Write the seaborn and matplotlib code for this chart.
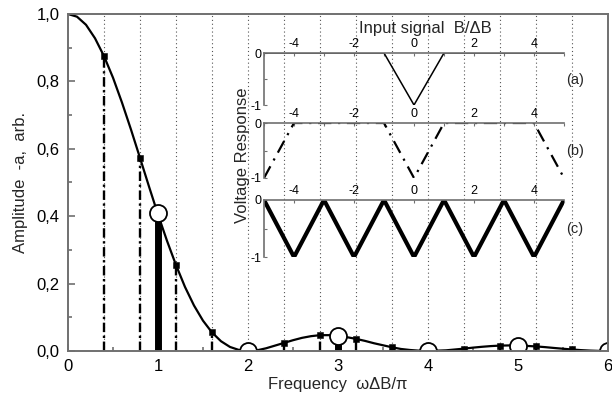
import numpy as np
import pandas as pd
import seaborn as sns
import matplotlib
matplotlib.use("Agg")
import matplotlib.pyplot as plt
from matplotlib.ticker import MultipleLocator, FixedLocator

sns.set_style("ticks")
plt.rcParams['font.family'] = ['Liberation Sans', 'DejaVu Sans']
plt.rcParams['axes.unicode_minus'] = False

# spectrum amplitude
curve_x = [0.0, 0.1, 0.2, 0.3, 0.4, 0.5, 0.6, 0.7, 0.8, 0.9, 1.0, 1.1, 1.2, 1.3, 1.4, 1.5,
           1.6, 1.7, 1.8, 1.9, 2.0, 2.1, 2.2, 2.3, 2.4, 2.5, 2.6, 2.7, 2.8, 2.9, 3.0, 3.1,
           3.2, 3.3, 3.4, 3.5, 3.6, 3.7, 3.8, 3.9, 4.0, 4.1, 4.2, 4.3, 4.4, 4.5, 4.6, 4.7,
           4.8, 4.9, 5.0, 5.1, 5.2, 5.3, 5.4, 5.5, 5.6, 5.7, 5.8, 5.9, 6.0]
curve_y = [1.0, 0.992, 0.968, 0.928, 0.875, 0.811, 0.737, 0.657, 0.573, 0.488, 0.405,
           0.327, 0.255, 0.190, 0.135, 0.090, 0.055, 0.029, 0.012, 0.003, 0.0, 0.002,
           0.008, 0.016, 0.024, 0.032, 0.039, 0.044, 0.047, 0.047, 0.045, 0.041, 0.036,
           0.030, 0.023, 0.017, 0.011, 0.006, 0.003, 0.001, 0.0, 0.001, 0.002, 0.0045,
           0.007, 0.010, 0.0125, 0.0146, 0.016, 0.0165, 0.016, 0.015, 0.0136, 0.0115,
           0.009, 0.0067, 0.0045, 0.0026, 0.0012, 0.0003, 0.0]

# harmonics of signal (b)
harm_b_x = [0.4, 0.8, 1.2, 1.6, 2.0, 2.4, 2.8, 3.2, 3.6, 4.0, 4.4, 4.8, 5.2, 5.6, 6.0]
harm_b_y = [0.875, 0.573, 0.255, 0.055, 0.0, 0.024, 0.047, 0.036, 0.011, 0.0,
            0.007, 0.016, 0.014, 0.0045, 0.0]

# harmonics of signal (c)
harm_c_x = [1, 2, 3, 4, 5, 6]
harm_c_y = [0.41, 0.0, 0.045, 0.0, 0.016, 0.0]

y_ticks = [0.0, 0.2, 0.4, 0.6, 0.8, 1.0]
y_labels = ["0,0", "0,2", "0,4", "0,6", "0,8", "1,0"]

# input signals for the inset
sig_a_x = [-5, -1, 0, 1, 5]
sig_a_y = [0, 0, -1, 0, 0]
sig_b_x = [-5, -4, -1, 0, 1, 4, 5]
sig_b_y = [-1, 0, 0, -1, 0, 0, -1]
sig_c_x = [-5, -4, -3, -2, -1, 0, 1, 2, 3, 4, 5]
sig_c_y = [0, -1, 0, -1, 0, -1, 0, -1, 0, -1, 0]

W, H = 612, 399
fig = plt.figure(figsize=(W / 100, H / 100), dpi=100)
ax = fig.add_axes([68 / W, 1 - 351 / H, 540 / W, 337 / H])

spine_col = '#707070'
dash_dot = (0, (4, 1.5, 1, 1.5))

# dotted guide lines
ax.vlines(harm_b_x, 0, 1, colors='#555555', linestyles=(0, (1, 2.5)), lw=0.8, zorder=1)
# stems
ax.vlines(harm_b_x, 0, harm_b_y, colors='black', linestyles=dash_dot, lw=1.7, zorder=2)
ax.vlines(harm_c_x, 0, harm_c_y, colors='black', lw=5, zorder=2)

curve = pd.DataFrame({'x': curve_x, 'y': curve_y})
sns.lineplot(data=curve, x='x', y='y', color='black', lw=1.6, ax=ax, zorder=3)
sq = sns.scatterplot(x=harm_b_x, y=harm_b_y, marker='s', s=22, color='black',
                     edgecolor='black', ax=ax, zorder=4, clip_on=True)
sns.scatterplot(x=harm_c_x, y=harm_c_y, marker='o', s=150, facecolor='white',
                edgecolor='black', linewidth=1.3, ax=ax, zorder=5, clip_on=True)
for coll in ax.collections:
    coll.set_clip_on(True)
    coll.set_clip_path(ax.patch)

ax.set_xlim(0, 6)
ax.set_ylim(0, 1)
ax.xaxis.set_major_locator(MultipleLocator(1))
ax.xaxis.set_minor_locator(MultipleLocator(0.5))
ax.yaxis.set_major_locator(FixedLocator(y_ticks))
ax.set_yticklabels(y_labels)
ax.yaxis.set_minor_locator(MultipleLocator(0.1))
ax.tick_params(which='both', direction='in', colors=spine_col, labelcolor='black',
               labelsize=12, pad=6)
ax.tick_params(which='major', length=5, width=1.2)
ax.tick_params(which='minor', length=3, width=1.2)
for s in ax.spines.values():
    s.set_color(spine_col)
    s.set_linewidth(1.4)
    s.set_zorder(6)
ax.set_xlabel("Frequency  \u03c9\u0394B/\u03c0", fontsize=12, labelpad=2)
ax.set_ylabel("Amplitude  -a,  arb.", fontsize=12, labelpad=6)

# white area behind the inset
bg = fig.add_axes([226 / W, 1 - 270 / H, 380 / W, 254 / H])
bg.set_facecolor('white')
bg.axis('off')
bg.patch.set_visible(True)

panels = [
    (sig_a_x, sig_a_y, 53, 105, dict(lw=1.1, ls='-'), "(a)"),
    (sig_b_x, sig_b_y, 123, 178, dict(lw=1.6, ls=(0, (6, 3, 1, 3))), "(b)"),
    (sig_c_x, sig_c_y, 200, 257, dict(lw=3.0, ls='-'), "(c)"),
]
for xs, ys, top, bot, style, tag in panels:
    pa = fig.add_axes([264 / W, 1 - bot / H, 300 / W, (bot - top) / H])
    pa.patch.set_alpha(0)
    sns.lineplot(x=xs, y=ys, color='black', ax=pa, **style)
    pa.set_xlim(-5, 5)
    pa.set_ylim(-1, 0)
    pa.spines['bottom'].set_visible(False)
    pa.spines['right'].set_visible(False)
    for s in ('top', 'left'):
        pa.spines[s].set_color(spine_col)
        pa.spines[s].set_linewidth(1.2)
    pa.xaxis.set_ticks_position('top')
    pa.xaxis.set_major_locator(FixedLocator([-4, -2, 0, 2, 4]))
    pa.xaxis.set_minor_locator(MultipleLocator(1))
    pa.yaxis.set_major_locator(FixedLocator([-1, 0]))
    pa.set_yticklabels(["-1", "0"])
    pa.yaxis.set_minor_locator(MultipleLocator(0.5))
    pa.tick_params(which='both', direction='in', colors=spine_col, labelcolor='black',
                   labelsize=9, pad=2, length=2.5, width=0.8)
    pa.set_xlabel("")
    pa.set_ylabel("")
    fig.text(575 / W, 1 - ((top + bot) / 2 + 1) / H, tag, fontsize=10.5,
             ha='center', va='center')

fig.text(425 / W, 1 - 28 / H, "Input signal  B/\u0394B", fontsize=12,
         ha='center', va='center')
fig.text(242 / W, 1 - 155 / H, "Voltage Response", fontsize=12, rotation=90,
         ha='center', va='center')

fig.savefig("out.png", dpi=100)
